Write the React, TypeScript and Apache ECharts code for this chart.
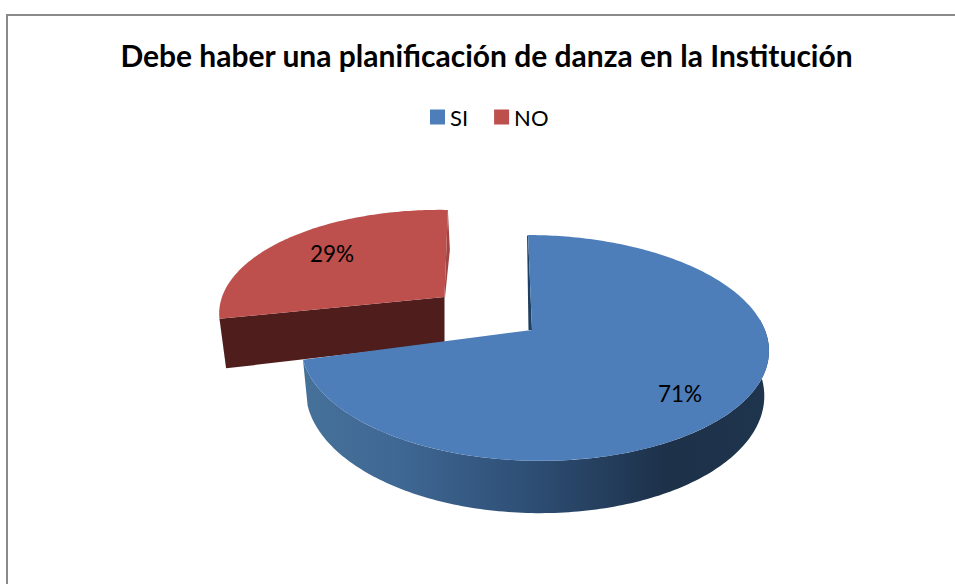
import React, { useEffect, useRef } from "react";
import * as echarts from "echarts";

const categories = ["SI", "NO"];
const shares = [71, 29];
const labels = ["71%", "29%"];
const titleText = "Debe haber una planificación de danza en la Institución";

const total = shares.reduce((a, b) => a + b, 0);
const FONT = "Lato, Carlito, sans-serif";

type View = {
  apex: [number, number]; cx: number; R: number; Rv: number; k: number; rot: number; tilt: number;
  depth: number; apexDepth: number; shrink: number; label: [number, number];
};

const views: Record<string, View> = {
  SI: { apex: [532, 330], cx: 535, R: 231, Rv: 110, k: 0.159, rot: -2, tilt: 3, depth: 44, apexDepth: 44, shrink: 0.98, label: [680, 393] },
  NO: { apex: [444.5, 297], cx: 440, R: 218, Rv: 101, k: 0.159, rot: 2.4, tilt: 0, depth: 48, apexDepth: 46, shrink: 0.97, label: [332, 253] },
};

const rim = (v: View, deg: number, lower = false): [number, number] => {
  const t = ((deg + v.rot) * Math.PI) / 180;
  const X = Math.sin(t);
  const Y = Math.cos(t);
  const s = 1 / (1 + v.k * Y);
  const x = v.R * X * s;
  const y = v.apex[1] - v.Rv * Y * s + v.tilt * X;
  return lower ? [v.cx + x * v.shrink, y + v.depth * s] : [v.cx + x, y];
};

const arc = (v: View, a: number, b: number, lower = false) => {
  const pts: [number, number][] = [];
  const n = Math.max(2, Math.ceil(Math.abs(b - a)));
  for (let i = 0; i <= n; i++) pts.push(rim(v, a + ((b - a) * i) / n, lower));
  return pts;
};

const sliceRange = (idx: number, value: number) => {
  const before = shares.slice(0, idx).reduce((a, b) => a + b, 0);
  return [(before / total) * 360, ((before + value) / total) * 360];
};

const labelEl = (v: View, text: string) => ({
  type: "text",
  style: { text, x: v.label[0], y: v.label[1], fill: "#000", font: `22.5px ${FONT}`, align: "center", verticalAlign: "middle" },
});

const renderSI = (_p: any, api: any) => {
  const v = views.SI;
  const [a, b] = sliceRange(0, api.value(0));
  const wallFill = new echarts.graphic.LinearGradient(0, 0, 1, 0, [
    { offset: 0, color: "#467199" },
    { offset: 0.2, color: "#3f6894" },
    { offset: 0.5, color: "#2d4d73" },
    { offset: 0.78, color: "#1d3149" },
    { offset: 1, color: "#1f344d" },
  ]);
  const wallTop = arc(v, 85, b);
  const wallLow = arc(v, b, 85, true);
  const top = rim(v, a);
  return {
    type: "group",
    children: [
      { type: "polygon", shape: { points: [...wallTop, ...wallLow] }, style: { fill: wallFill } },
      { type: "polygon", shape: { points: [[top[0] - 1, top[1] + 1], [v.apex[0] - 3.5, v.apex[1]], v.apex, top] }, style: { fill: "#1f3f60" } },
      { type: "polygon", shape: { points: [v.apex, ...arc(v, a, b)] }, style: { fill: "#4d7eba" } },
      labelEl(v, labels[0]),
    ],
  };
};

const renderNO = (_p: any, api: any) => {
  const v = views.NO;
  const [a, b] = sliceRange(1, api.value(0));
  const left = rim(v, a);
  const leftLow = rim(v, a, true);
  const top = rim(v, b);
  const [ax, ay] = v.apex;
  return {
    type: "group",
    children: [
      { type: "polygon", shape: { points: [top, [top[0] + 2, top[1] + 40], [ax + 0.5, ay], v.apex] }, style: { fill: "#9f4644" } },
      { type: "polygon", shape: { points: [v.apex, left, leftLow, [ax, ay + v.apexDepth]] }, style: { fill: "#4f1e1c" } },
      { type: "polygon", shape: { points: [v.apex, ...arc(v, a, b)] }, style: { fill: "#bd4f4c" } },
      labelEl(v, labels[1]),
    ],
  };
};

export default function App() {
  const ref = useRef<HTMLDivElement>(null);
  useEffect(() => {
    document.body.style.margin = "0";
    const chart = echarts.init(ref.current!, undefined, { renderer: "svg" });
    chart.setOption({
      animation: false,
      backgroundColor: "#ffffff",
      title: {
        text: titleText,
        left: 481.5,
        top: 35,
        textAlign: "center",
        textStyle: { fontFamily: FONT, fontWeight: "bold", fontSize: 30, color: "#000" },
      },
      legend: {
        data: categories,
        left: 425,
        top: 101,
        icon: "rect",
        itemWidth: 15,
        itemHeight: 15,
        itemGap: 26,
        textStyle: { fontFamily: FONT, fontSize: 22, color: "#000" },
      },
      graphic: [
        { type: "line", shape: { x1: 6, y1: 15, x2: 955, y2: 15 }, style: { stroke: "#8a8a8a", lineWidth: 2 } },
        { type: "line", shape: { x1: 7, y1: 14, x2: 7, y2: 584 }, style: { stroke: "#8a8a8a", lineWidth: 2 } },
      ],
      series: [
        { type: "custom", name: categories[0], coordinateSystem: "none", z: 3, itemStyle: { color: "#4d7eba" }, renderItem: renderSI, data: [[shares[0]]] },
        { type: "custom", name: categories[1], coordinateSystem: "none", z: 2, itemStyle: { color: "#bd4f4c" }, renderItem: renderNO, data: [[shares[1]]] },
      ],
    });
    return () => chart.dispose();
  }, []);
  return <div ref={ref} style={{ position: "fixed", left: 0, top: 0, width: 955, height: 584 }} />;
}
